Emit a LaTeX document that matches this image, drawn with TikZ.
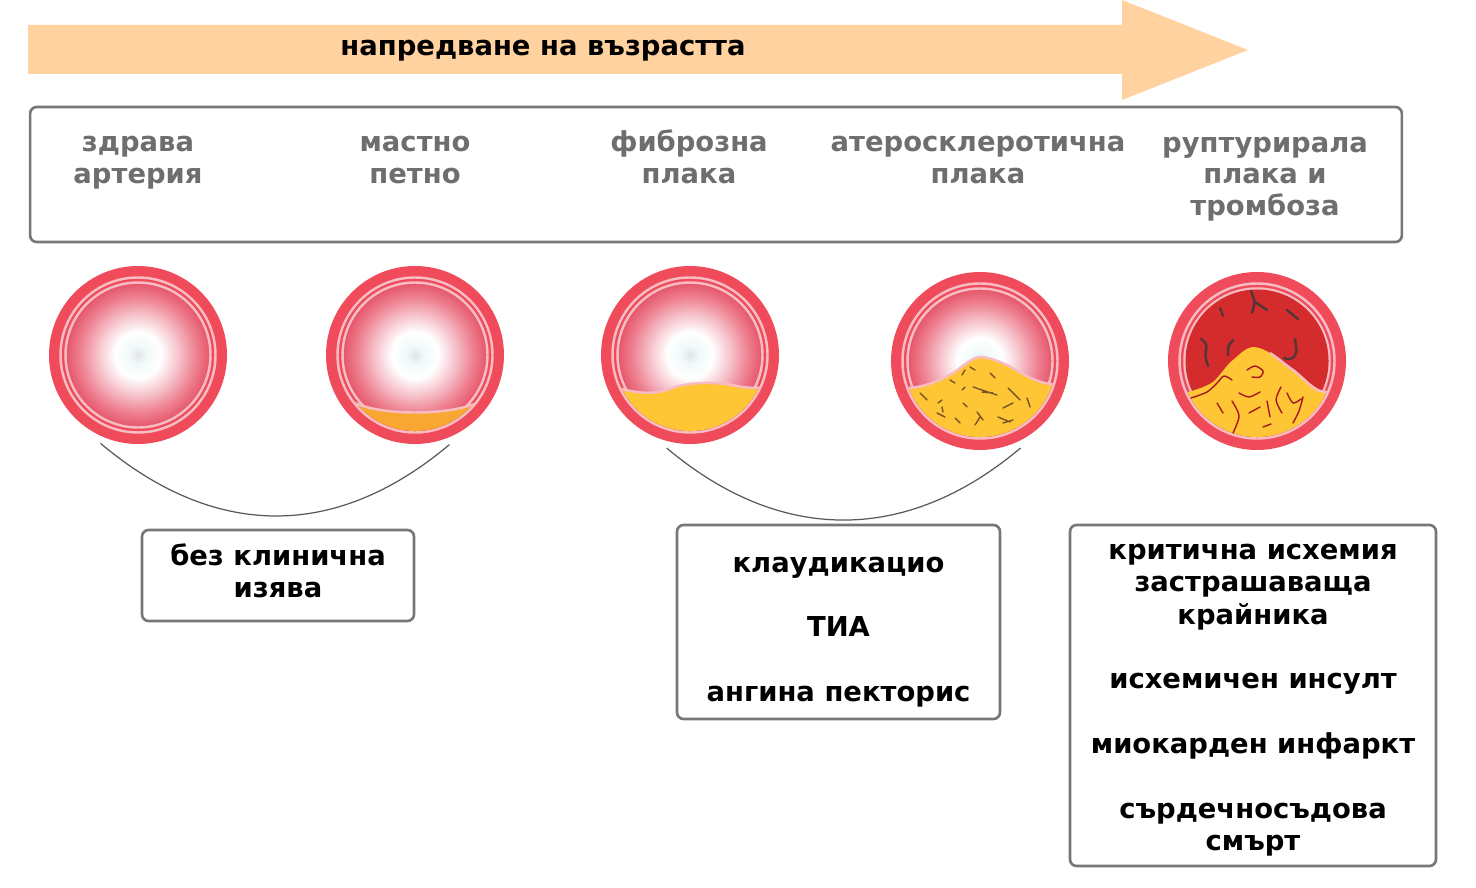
\documentclass[tikz,border=0pt]{standalone}
\usepackage{fontspec}
\setmainfont{DejaVu Sans}
\usepackage{tikz}
\usetikzlibrary{positioning}
\definecolor{agepeach}{HTML}{FFD29F}
\definecolor{frame}{HTML}{777777}
\definecolor{stagegray}{HTML}{6E6E6E}
\definecolor{wallred}{HTML}{EF4B5A}
\definecolor{intimapink}{HTML}{F8BCC3}
\definecolor{lumcore}{HTML}{E2E3E6}
\definecolor{lumhalo}{HTML}{F0F9F9}
\definecolor{lummid}{HTML}{F6C3CB}
\definecolor{lumdeep}{HTML}{EE8292}
\definecolor{lumedge}{HTML}{E5566A}
\definecolor{streakorange}{HTML}{F9A733}
\definecolor{plaqueyellow}{HTML}{FEC635}
\definecolor{thrombus}{HTML}{D42B2C}
\definecolor{debris}{HTML}{7A5424}
\definecolor{clotline}{HTML}{553638}
\definecolor{fibrin}{HTML}{A8161E}
\pgfdeclareradialshading{lumen}{\pgfpoint{0bp}{0bp}}{color(0bp)=(lumcore); color(3bp)=(lumhalo); color(8bp)=(white); color(14bp)=(lummid); color(20bp)=(lumdeep); color(25bp)=(lumedge); color(50bp)=(lumedge)}
\tikzset{
	stagebox/.style={
		draw=frame,
		line width=1.5pt,
		rounded corners=0.13cm,
		inner sep=0pt,
		text depth=0pt,
	},
	stage/.style={
		text=stagegray,
		align=center,
		anchor=base,
		inner sep=0pt,
		font={\bfseries\fontsize{15.6}{18}\selectfont}
	},
	outcome/.style={
		align=center,
		font={\bfseries\fontsize{15.6}{18.4}\selectfont}
	},
	artery/.style={
		circle,
		inner sep=0pt,
		minimum size=3.56cm,
		outer sep=0.14cm,
	},
	bracket/.style={
		draw=black!65,
		line width=0.7pt,
	},
	intima/.style={
		draw=intimapink,
		line width=1.4pt,
	},
	debrisline/.style={draw=debris, line width=0.8pt, line cap=round},
	clotstroke/.style={draw=clotline, line width=1.4pt, line cap=round, rounded corners=2pt},
	fibrestroke/.style={draw=fibrin, line width=0.8pt, line cap=round},
	vessel/.pic={
		\fill[wallred] (0,0) circle (89);
		\draw[intima] (0,0) circle (77.5);
		\shade[shading=lumen] (0,0) circle (72);
		\draw[intima] (0,0) circle (72.5);
	}
}
\begin{document}
\begin{tikzpicture}[x=0.02cm, y=-0.02cm]
	\useasboundingbox (0,0) rectangle (1476,888);

	% age arrow
	\fill[agepeach] (28,25) -- (1122,25) -- (1122,0) -- (1248,50) -- (1122,100) -- (1122,74) -- (28,74) -- cycle;
	\node[outcome, anchor=base] (age) at (543,56) {напредване на възрастта};

	% stages
	\node[stagebox, minimum width=27.44cm, minimum height=2.7cm] (stages) at (716,174.5) {};
	\node[stage] (s1) at (138,183.5) {здрава\\артерия};
	\node[stage] (s2) at (415,183.5) {мастно\\петно};
	\node[stage] (s3) at (689,183.5) {фиброзна\\плака};
	\node[stage] (s4) at (978,183.5) {атеросклеротична\\плака};
	\node[stage] (s5) at (1265,215.5) {руптурирала\\плака и\\тромбоза};

	% arteries
	\node[artery] (healthy) at (138,355) {};
	\node[artery] (fatty) at (415,355) {};
	\node[artery] (fibrous) at (690,355) {};
	\node[artery] (athero) at (980,361) {};
	\node[artery] (ruptured) at (1257,361) {};

	\pic at (healthy) {vessel};

	\pic at (fatty) {vessel};
	\begin{scope}[shift={(fatty)}]
		\clip (0,0) circle (76);
		\fill[streakorange] (-62,47) .. controls (-35,61) and (35,61) .. (64,47) -- (80,90) -- (-80,90) -- cycle;
		\draw[intima] (-62,47) .. controls (-35,61) and (35,61) .. (64,47);
	\end{scope}

	\pic at (fibrous) {vessel};
	\begin{scope}[shift={(fibrous)}]
		\clip (0,0) circle (76);
		\fill[plaqueyellow] (-80,32) -- (-68,34) .. controls (-45,40) and (-32,38) .. (-20,34) .. controls (-8,28) and (22,26) .. (42,30) .. controls (56,33) and (66,34) .. (80,31) -- (80,90) -- (-80,90) -- cycle;
		\draw[intima] (-80,32) -- (-68,34) .. controls (-45,40) and (-32,38) .. (-20,34) .. controls (-8,28) and (22,26) .. (42,30) .. controls (56,33) and (66,34) .. (80,31);
	\end{scope}

	\pic at (athero) {vessel};
	\begin{scope}[shift={(athero)}]
		\begin{scope}
			\clip (0,0) circle (76);
			\fill[plaqueyellow] (-80,25) -- (-70,27) .. controls (-52,25) and (-38,19) .. (-24,10) .. controls (-12,1) and (-6,-4) .. (0,-4) .. controls (10,-4) and (24,2) .. (36,9) .. controls (50,17) and (60,23) .. (80,24) -- (80,90) -- (-80,90) -- cycle;
			\draw[intima] (-80,25) -- (-70,27) .. controls (-52,25) and (-38,19) .. (-24,10) .. controls (-12,1) and (-6,-4) .. (0,-4) .. controls (10,-4) and (24,2) .. (36,9) .. controls (50,17) and (60,23) .. (80,24);
		\end{scope}
		\draw[debrisline] (-60,32) -- (-53,39) (-42,42) -- (-38,39) (-30,19) -- (-25,22) (-18,14) -- (-15,9)
			(-10,6) -- (-5,9) (-7,26) -- (17,34) (2,31) -- (13,32) (10,12) -- (15,17) (28,27) -- (34,33) -- (40,39)
			(33,42) -- (23,47) (47,37) -- (50,46) (-43,52) -- (-35,56) (-25,57) -- (-20,62) (-17,42) -- (-13,46)
			(-3,51) -- (3,59) (0,56) -- (-5,64) (18,56) -- (30,61) (23,62) -- (33,59) (-18,29) -- (-15,26) (-38,46) -- (-37,51);
	\end{scope}

	\pic at (ruptured) {vessel};
	\begin{scope}[shift={(ruptured)}]
		\fill[thrombus] (0,0) circle (71.5);
		\draw[clotstroke] (-6,-70) -- (-2,-59) -- (-5,-48) (-2,-59) -- (10,-51) (-37,-53) -- (-34,-45) (30,-51) -- (41,-42)
			(-56,-22) -- (-50,-17) -- (-52,-5) -- (-49,5) (-24,-21) -- (-29,-15) -- (-29,-6) (38,-22) -- (40,-8) -- (34,-1) -- (27,-3);
		\begin{scope}
			\clip (0,0) circle (76);
			\fill[plaqueyellow] (-80,31) -- (-69,31) .. controls (-58,28) and (-50,25) .. (-44,21) .. controls (-36,14) and (-30,3) .. (-24,-1) .. controls (-16,-8) and (-10,-14) .. (-4,-14) .. controls (2,-14) and (8,-11) .. (13,-8) .. controls (22,-2) and (30,5) .. (36,9) .. controls (44,15) and (50,22) .. (56,26) .. controls (60,29) and (64,31) .. (80,31) -- (80,90) -- (-80,90) -- cycle;
		\end{scope}
		\draw[intima] (13,-8) .. controls (22,-2) and (30,5) .. (36,9) .. controls (44,15) and (50,22) .. (56,26) .. controls (60,29) and (64,31) .. (70,31);
		\draw[fibrestroke] plot[smooth] coordinates {(-66,37) (-50,31) (-40,22) (-33,15) (-25,19)}
			plot[smooth] coordinates {(-10,9) (-2,5) (6,10) (3,16) (-5,16)}
			plot[smooth] coordinates {(-18,32) (-8,36) (3,31)}
			plot[smooth] coordinates {(-25,40) (-18,55) (-24,72)}
			plot[smooth] coordinates {(-8,52) (3,46)}
			plot[smooth] coordinates {(10,40) (13,56)}
			plot[smooth] coordinates {(24,26) (19,39) (25,52)}
			plot[smooth] coordinates {(30,32) (36,42) (44,38)}
			plot[smooth] coordinates {(46,36) (42,50) (36,62)}
			plot[smooth] coordinates {(6,66) (14,63)}
			plot[smooth] coordinates {(-40,42) (-34,52)};
	\end{scope}

	% groupings
	\draw[bracket] (healthy.247) .. controls +(114,96) and +(-114,96) .. (fatty.291);
	\draw[bracket] (fibrous.256) .. controls +(114,96) and +(-114,96) .. (athero.295);

	% outcomes
	\node[stagebox, outcome, text height=0.88cm, minimum width=5.44cm, minimum height=1.82cm] (silent) at (278,575.5) {без клинична\\изява};
	\node[stagebox, outcome, text height=3.18cm, minimum width=6.46cm, minimum height=3.88cm] (stable) at (838.5,622) {клаудикацио\\[18.4pt]ТИА\\[18.4pt]ангина пекторис};
	\node[stagebox, outcome, text height=6.2cm, minimum width=7.32cm, minimum height=6.82cm] (acute) at (1253,695.5) {критична исхемия\\застрашаваща\\крайника\\[18.4pt]исхемичен инсулт\\[18.4pt]миокарден инфаркт\\[18.4pt]сърдечносъдова\\смърт};
\end{tikzpicture}
\end{document}
